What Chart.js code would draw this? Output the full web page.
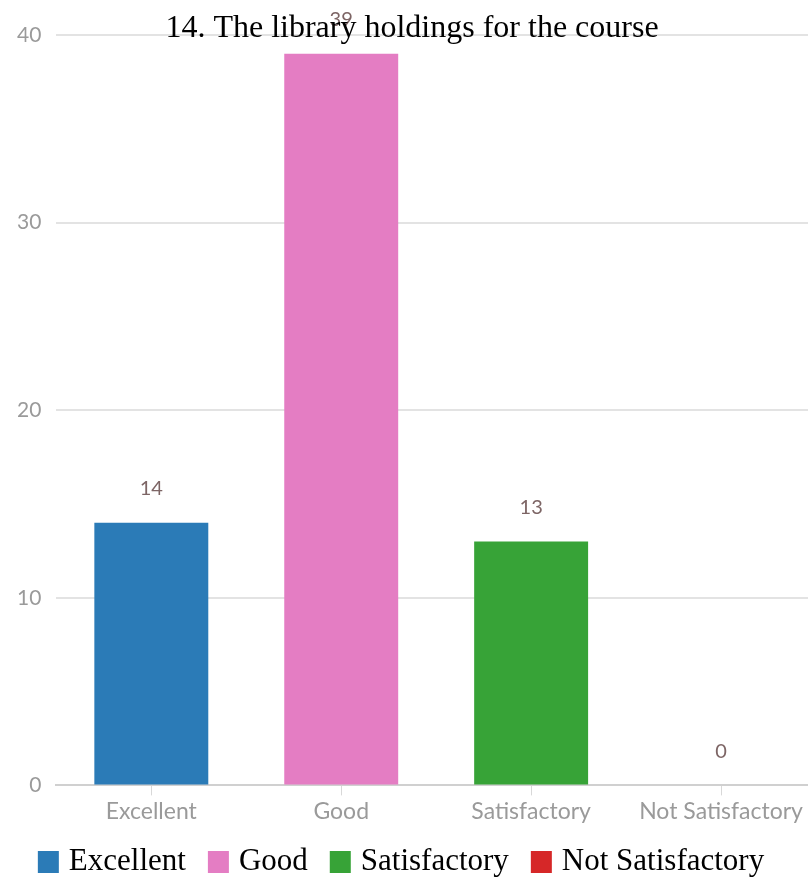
<!DOCTYPE html>
<html>
<head>
<meta charset="utf-8">
<script src="https://cdn.jsdelivr.net/npm/chart.js@4"></script>
<style>
  html, body { margin: 0; padding: 0; background: #fff; overflow: hidden; }
  #wrap { width: 816px; height: 881px; }
</style>
</head>
<body>
<div id="wrap"><canvas id="chart"></canvas></div>
<script>
// data
const categories = ['Excellent', 'Good', 'Satisfactory', 'Not Satisfactory'];
const responses = [14, 39, 13, 0];
const barColors = ['#2b7bb7', '#e47dc3', '#37a337', '#d62728'];
const yTicks = [0, 10, 20, 30, 40];
const titleText = '14. The library holdings for the course';

const serif = '"Liberation Serif", "Times New Roman", serif';

// value labels above bars, then title and legend drawn on top
const overlay = {
    id: 'overlay',
    afterDatasetsDraw(chart) {
        const ctx = chart.ctx;
        const meta = chart.getDatasetMeta(0);
        ctx.save();
        ctx.font = '20px Lato, sans-serif';
        ctx.fillStyle = '#7d6565';
        ctx.textAlign = 'center';
        ctx.textBaseline = 'middle';
        meta.data.forEach((bar, i) => {
            ctx.fillText(String(responses[i]), bar.x, bar.y - 34);
        });
        ctx.restore();
    },
    afterDraw(chart) {
        const ctx = chart.ctx;
        ctx.save();
        // title
        ctx.font = '32px ' + serif;
        ctx.fillStyle = '#000';
        ctx.textAlign = 'center';
        ctx.textBaseline = 'alphabetic';
        ctx.fillText(titleText, 412, 37);

        // legend row under the axis
        ctx.font = '31px ' + serif;
        ctx.textAlign = 'left';
        ctx.textBaseline = 'middle';
        const box = 21, gapText = 10, gapItem = 22, cy = 862;
        const widths = categories.map(c => box + gapText + ctx.measureText(c).width);
        const total = widths.reduce((a, b) => a + b, 0) + gapItem * (categories.length - 1);
        let x = 401 - total / 2;
        categories.forEach((c, i) => {
            ctx.fillStyle = barColors[i];
            ctx.fillRect(x, cy - 11, box, 22);
            ctx.fillStyle = '#000';
            ctx.fillText(c, x + box + gapText, cy);
            x += widths[i] + gapItem;
        });
        ctx.restore();
    }
};

const chart = new Chart(document.getElementById('chart'), {
    type: 'bar',
    data: {
        labels: categories,
        datasets: [{
            label: 'Responses',
            data: responses,
            backgroundColor: barColors,
            borderWidth: 0,
            barPercentage: 0.6,
            categoryPercentage: 1.0
        }]
    },
    options: {
        responsive: true,
        maintainAspectRatio: false,
        animation: false,
        layout: { padding: { top: 35, left: 2, right: 0, bottom: 54 } },
        plugins: {
            title: { display: false },
            tooltip: { enabled: false },
            legend: { display: false }
        },
        scales: {
            x: {
                offset: true,
                grid: {
                    offset: false,
                    drawOnChartArea: false,
                    drawTicks: true,
                    tickLength: 10,
                    color: '#d8d8d8'
                },
                border: { color: '#d0d0d0', width: 2 },
                ticks: {
                    color: '#9a9a9a',
                    padding: 2,
                    font: { family: 'Lato, sans-serif', size: 23 }
                }
            },
            y: {
                min: 0,
                max: 40,
                afterBuildTicks: axis => { axis.ticks = yTicks.map(v => ({ value: v })); },
                grid: { color: '#e3e3e3', drawTicks: false, lineWidth: 2 },
                border: { display: false },
                ticks: {
                    color: '#9a9a9a',
                    padding: 15,
                    font: { family: 'Lato, sans-serif', size: 21 }
                }
            }
        }
    },
    plugins: [overlay]
});
</script>
</body>
</html>
